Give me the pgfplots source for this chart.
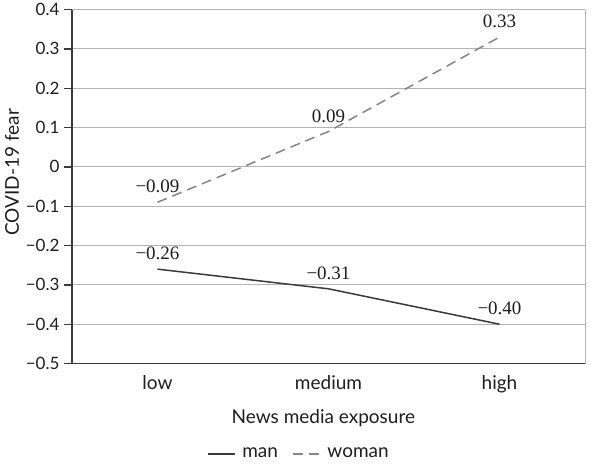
\documentclass[border=0pt]{standalone}
\usepackage{fontspec}
\setmainfont{Lato}
\newfontfamily\valfont{Liberation Serif}
\usepackage{pgfplots}
\pgfplotsset{compat=1.18}

\definecolor{axisgray}{HTML}{3A3A3A}
\definecolor{gridgray}{HTML}{B4B4B4}
\definecolor{womangray}{HTML}{858585}
\definecolor{txt}{HTML}{1E1E1E}

\begin{document}
\begin{tikzpicture}[x=1pt,y=1pt]
\begin{axis}[
    width=513pt, height=354pt,
    scale only axis,
    at={(0,0)}, anchor=south west,
    xmin=-0.5, xmax=2.5,
    ymin=-0.5, ymax=0.4,
    xtick={0,1,2},
    xticklabels={low,medium,high},
    ytick={-0.5,-0.4,-0.3,-0.2,-0.1,0,0.1,0.2,0.3,0.4},
    yticklabels={−0.5,−0.4,−0.3,−0.2,−0.1,0,0.1,0.2,0.3,0.4},
    ymajorgrids,
    grid style={gridgray, line width=1pt},
    axis line style={axisgray, line width=1.3pt},
    axis x line*=bottom,
    axis y line*=left,
    x tick style={draw=none},
    y tick style={axisgray, line width=1.3pt},
    tick align=outside,
    major tick length=8pt,
    ticklabel style={font=\fontsize{17}{19}\selectfont, text=txt},
    xticklabel style={font=\fontsize{19}{21}\selectfont, anchor=base, yshift=-18pt},
    yticklabel style={xshift=-1pt},
    label style={font=\fontsize{19}{21}\selectfont, text=txt},
    xlabel={News media exposure},
    xlabel style={at={(axis description cs:0.49,0)}, anchor=base, yshift=-60pt},
    ylabel={COVID-19 fear},
    ylabel style={at={(axis description cs:-0.117,0.54)}, anchor=center},
    legend style={draw=none, fill=none, at={(axis description cs:0.442,-0.255)}, anchor=center, legend columns=2,
        font=\fontsize{19}{21}\selectfont, text=txt,
        /tikz/every odd column/.append style={column sep=5pt},
        /tikz/every even column/.append style={column sep=12pt}},
    legend image code/.code={\draw[#1] (0pt,0pt) -- (27pt,0pt);},
    nodes near coords,
    nodes near coords align={above},
    every node near coord/.append style={font=\valfont\fontsize{19}{21}\selectfont, text=txt, yshift=5pt},
    point meta=explicit symbolic,
    clip=false,
]
\draw[gridgray, line width=1pt] (rel axis cs:1,0) -- (rel axis cs:1,1);
\addplot[axisgray, line width=1.5pt, mark=none] coordinates {
    (0,-0.26) [−0.26]
    (1,-0.31) [−0.31]
    (2,-0.40) [−0.40]
};
\addplot[womangray, line width=1.5pt, dash pattern=on 10pt off 6pt, mark=none] coordinates {
    (0,-0.09) [−0.09]
    (1,0.09) [0.09]
    (2,0.33) [0.33]
};
\legend{man,woman}
\end{axis}
\useasboundingbox (-72,-99) rectangle (519,361);
\end{tikzpicture}
\end{document}
